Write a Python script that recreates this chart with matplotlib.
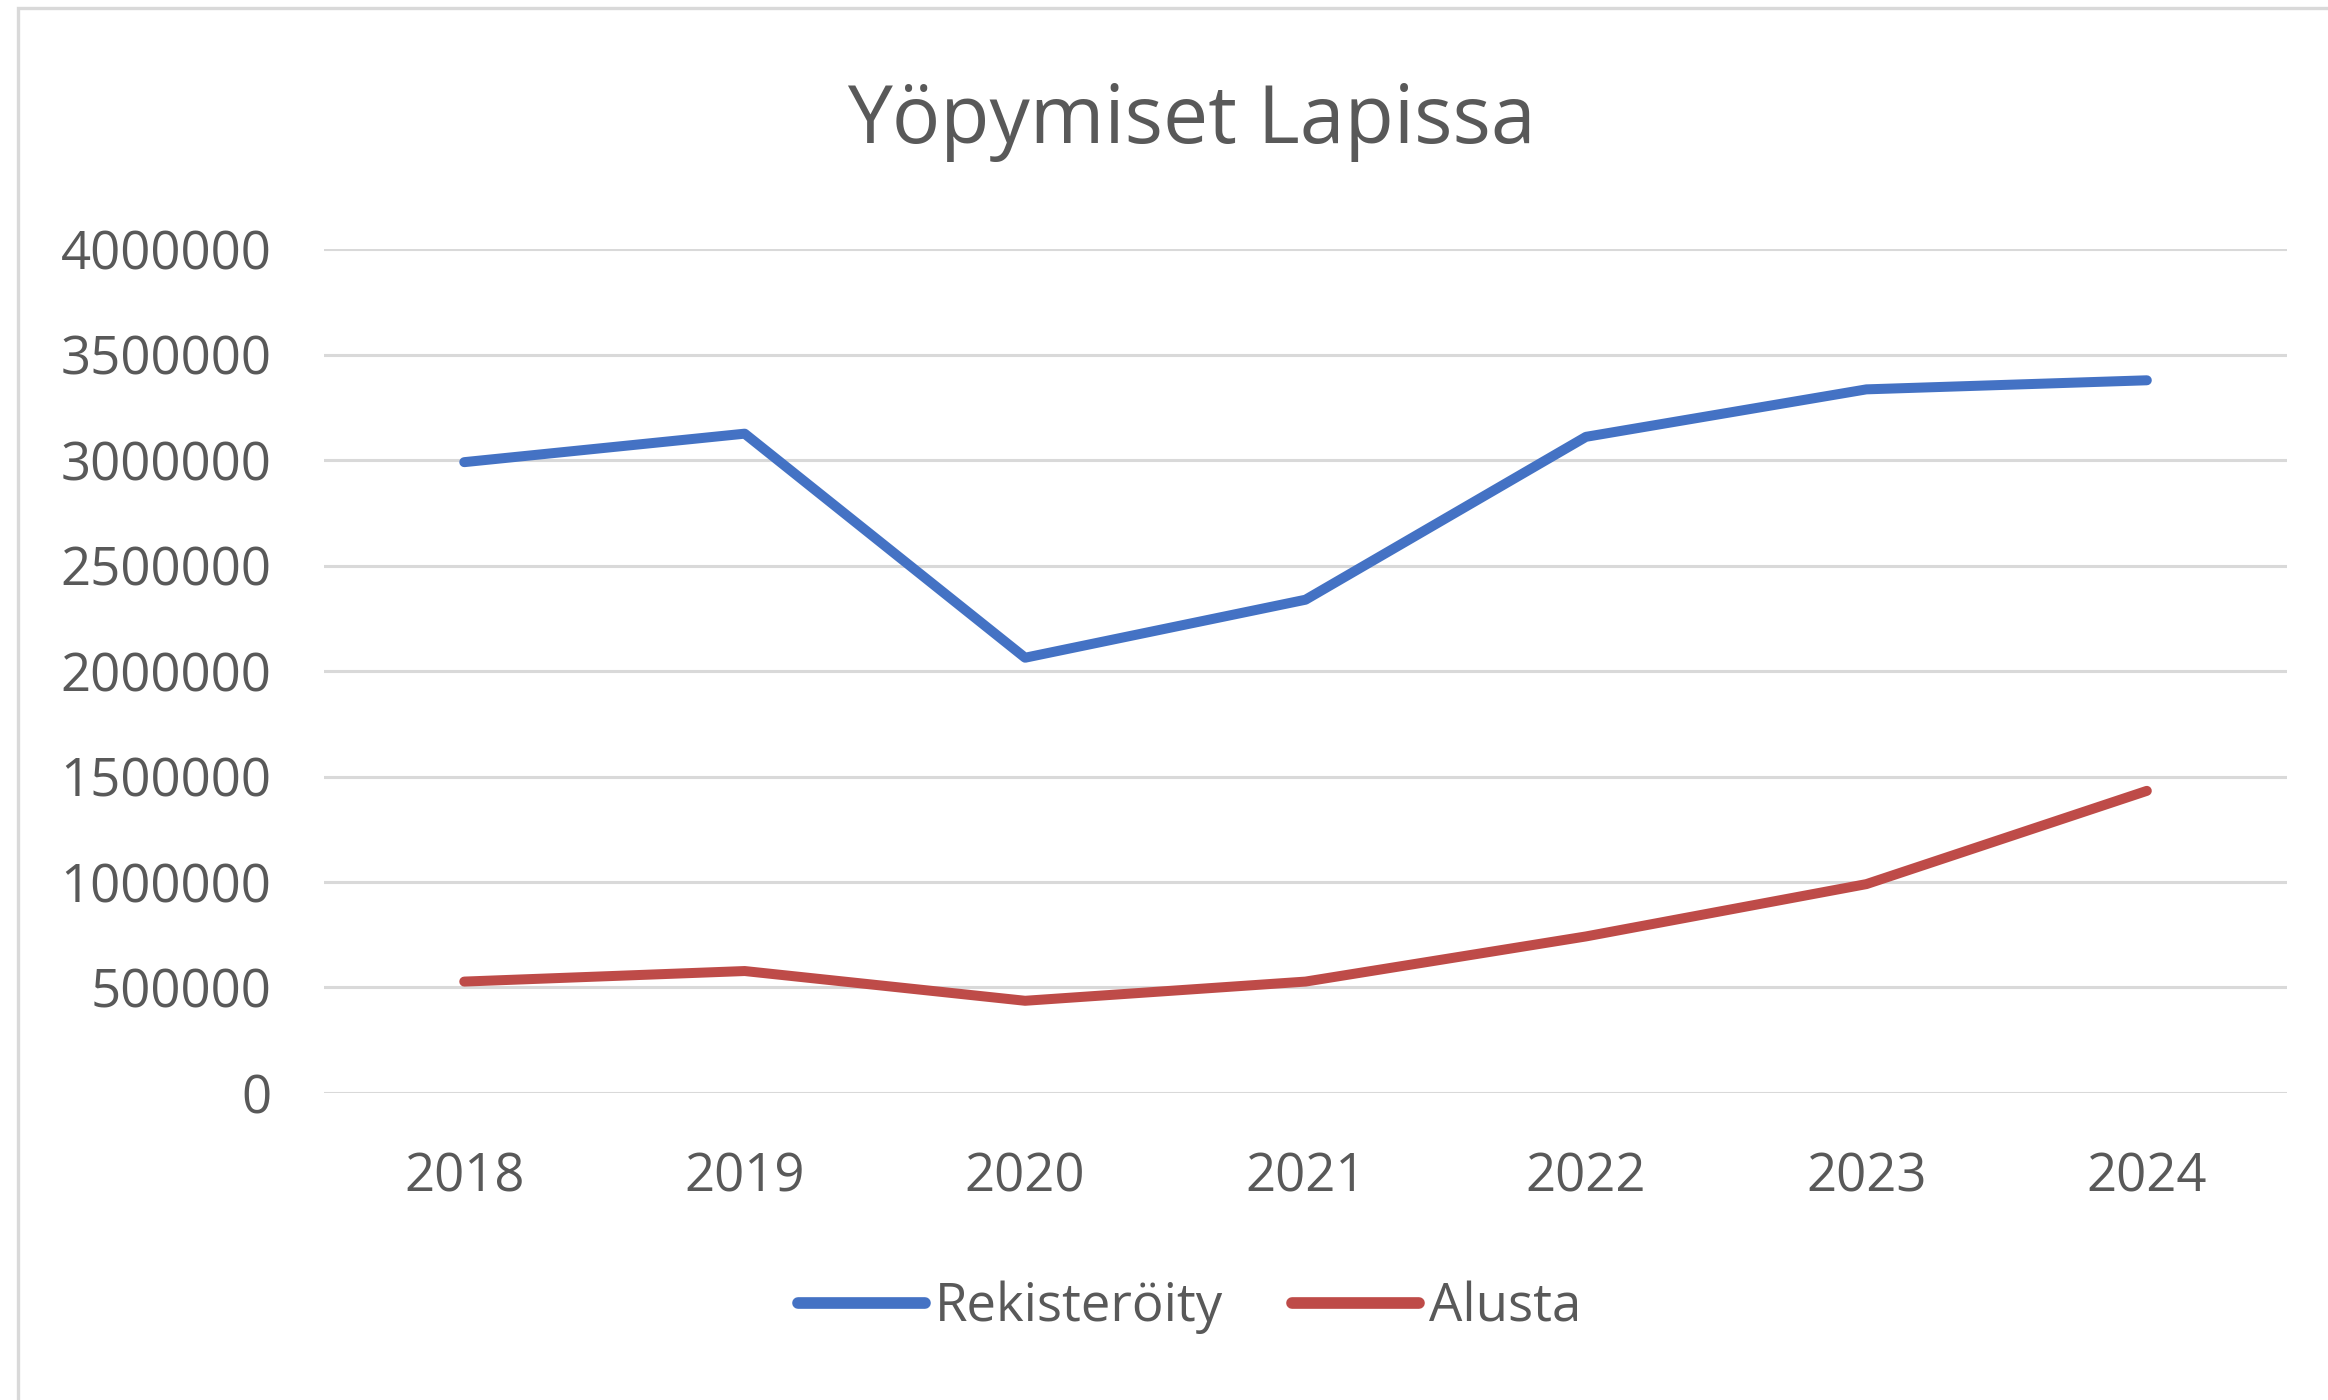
import matplotlib.pyplot as plt
from matplotlib.patches import Rectangle

years = ['2018', '2019', '2020', '2021', '2022', '2023', '2024']
rekisteroity = [2990000, 3125000, 2063000, 2338000, 3110000, 3335000, 3378000]
alusta = [528000, 578000, 437000, 528000, 742000, 990000, 1432000]

plt.rcParams['font.family'] = ['Open Sans', 'DejaVu Sans']
txt = '#595959'

fig = plt.figure(figsize=(11.64, 7), dpi=200)
ax = fig.add_axes([0.1392, 0.2193, 0.8432, 0.6028])

x = range(len(years))
ax.plot(x, rekisteroity, color='#4472C4', lw=3.6, solid_capstyle='round',
        solid_joinstyle='round', label='Rekisteröity', zorder=3)
ax.plot(x, alusta, color='#BE4B48', lw=3.6, solid_capstyle='round',
        solid_joinstyle='round', label='Alusta', zorder=3)

ax.set_xlim(-0.5, 6.5)
ax.set_ylim(0, 4000000)
ax.set_yticks(range(0, 4000001, 500000))
ax.set_yticklabels([str(v) for v in range(0, 4000001, 500000)])
ax.set_xticks(list(x))
ax.set_xticklabels(years)
ax.tick_params(axis='both', length=0, labelsize=19, colors=txt)
ax.tick_params(axis='y', pad=19)
ax.tick_params(axis='x', pad=21)
ax.grid(axis='y', color='#d9d9d9', lw=1.1, zorder=0)
for s in ax.spines.values():
    s.set_visible(False)
ax.set_axisbelow(True)

fig.text(0.512, 0.913, 'Yöpymiset Lapissa', ha='center', va='center',
         fontsize=29, color=txt)

leg = fig.legend(loc='center', bbox_to_anchor=(0.511, 0.066), ncol=2,
                 frameon=False, fontsize=19, handlelength=2.4,
                 handletextpad=0.2, columnspacing=1.3, labelcolor=txt)
for h in leg.get_lines():
    h.set_linewidth(4.2)

# outer chart frame (only top and left visible in the crop)
fig.patches.append(Rectangle((18 / 2328, -0.1), 1.2, 1.1 - 8 / 1400,
                             transform=fig.transFigure, fill=False,
                             edgecolor='#d9d9d9', lw=1.2))

fig.savefig('out.png', dpi=200, facecolor='white')
